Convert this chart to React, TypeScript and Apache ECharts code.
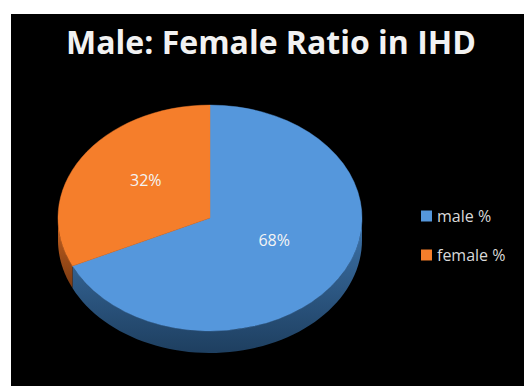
import React, { useEffect, useRef } from "react";
import * as echarts from "echarts";

const titleText = "Male: Female Ratio in IHD";
const categories = ["male %", "female %"];
const values = [68, 32];
const topColors = ["#5597DC", "#F57E2B"];
const sideTopColors = ["#3D73AA", "#C8621F"];
const sideBottomColors = ["#1E3F60", "#7A3A12"];

const CX = 210;
const CY = 218;
const RX = 152;
const RY = 113;
const DEPTH = 22;

const total = values.reduce((a, b) => a + b, 0);
const startOf = (i: number) => {
  let s = 0;
  for (let k = 0; k < i; k++) s += values[k];
  return -Math.PI / 2 + (2 * Math.PI * s) / total;
};

function makeTop(i: number) {
  return (params: any, api: any) => {
    const v = api.value(0);
    const a1 = startOf(i);
    const a2 = a1 + (2 * Math.PI * v) / total;
    const mid = (a1 + a2) / 2;
    const lx = CX + RX * 0.5 * Math.cos(mid);
    const ly = CY + RY * 0.5 * Math.sin(mid) - 8;
    return {
      type: "group",
      children: [
        {
          type: "group",
          x: CX,
          y: CY,
          scaleY: RY / RX,
          children: [
            {
              type: "sector",
              shape: { cx: 0, cy: 0, r: RX, r0: 0, startAngle: a1, endAngle: a2, clockwise: true },
              style: { fill: topColors[i], stroke: topColors[i], lineWidth: 0.5 },
            },
          ],
        },
        {
          type: "text",
          x: lx,
          y: ly,
          style: {
            text: Math.round((v / total) * 100) + "%",
            fill: "#F4F4F4",
            font: "16px 'Open Sans'",
            align: "center",
            verticalAlign: "middle",
          },
        },
      ],
    };
  };
}

function renderSide(params: any, api: any) {
  const i = params.dataIndex;
  const v = api.value(0);
  const s1 = startOf(i);
  const s2 = s1 + (2 * Math.PI * v) / total;
  const norm = (a: number) => {
    let x = a % (2 * Math.PI);
    if (x < 0) x += 2 * Math.PI;
    return x;
  };
  const a1 = norm(s1);
  const a2 = a1 + (s2 - s1);
  const children: any[] = [];
  const ranges: [number, number][] = [];
  for (const off of [0, 2 * Math.PI]) {
    const lo = Math.max(a1, 0 + off);
    const hi = Math.min(a2, Math.PI + off);
    if (hi > lo) ranges.push([lo, hi]);
  }
  for (const [lo, hi] of ranges) {
    const n = 60;
    const pts: number[][] = [];
    for (let k = 0; k <= n; k++) {
      const t = lo + ((hi - lo) * k) / n;
      pts.push([CX + RX * Math.cos(t), CY + RY * Math.sin(t)]);
    }
    for (let k = n; k >= 0; k--) {
      const t = lo + ((hi - lo) * k) / n;
      pts.push([CX + RX * Math.cos(t), CY + RY * Math.sin(t) + DEPTH]);
    }
    children.push({
      type: "polygon",
      shape: { points: pts },
      style: {
        fill: new echarts.graphic.LinearGradient(0, 0, 0, 1, [
          { offset: 0, color: sideTopColors[i] },
          { offset: 1, color: sideBottomColors[i] },
        ]),
      },
    });
  }
  return { type: "group", children };
}

export default function App() {
  const ref = useRef<HTMLDivElement>(null);
  useEffect(() => {
    if (!ref.current) return;
    const chart = echarts.init(ref.current, null, { renderer: "svg" });
    chart.setOption({
      animation: false,
      backgroundColor: "#ffffff",
      graphic: [
        {
          type: "rect",
          z: -10,
          shape: { x: 11, y: 14, width: 513, height: 372 },
          style: { fill: "#000000" },
        },
      ],
      title: {
        text: titleText,
        left: 271,
        textAlign: "center",
        top: 25,
        padding: 0,
        textStyle: {
          color: "#F2F2F2",
          fontSize: 32,
          fontWeight: "bold",
          fontFamily: "Open Sans",
        },
      },
      legend: {
        data: categories,
        orient: "vertical",
        left: 421,
        top: 208,
        padding: 0,
        itemWidth: 11,
        itemHeight: 11,
        itemGap: 23,
        icon: "rect",
        textStyle: { color: "#D9D9D9", fontSize: 16, fontFamily: "Open Sans" },
      },
      series: [
        {
          type: "custom",
          name: "side",
          coordinateSystem: "none",
          silent: true,
          z: 2,
          data: values,
          renderItem: renderSide,
        },
        ...categories.map((name, i) => ({
          type: "custom",
          name,
          coordinateSystem: "none",
          z: 3,
          itemStyle: { color: topColors[i] },
          data: [values[i]],
          renderItem: makeTop(i),
        })),
      ],
    });
    return () => chart.dispose();
  }, []);
  return (
    <div
      ref={ref}
      style={{ position: "absolute", left: 0, top: 0, width: 524, height: 386 }}
    />
  );
}
